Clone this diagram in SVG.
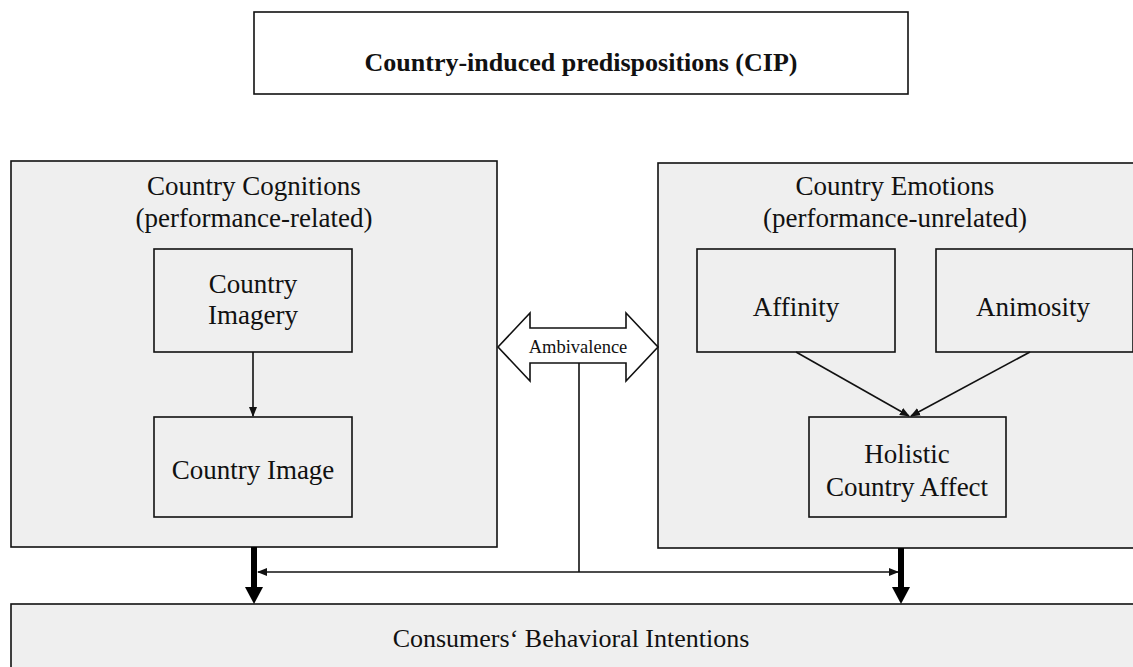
<svg xmlns="http://www.w3.org/2000/svg" width="1133" height="667" viewBox="0 0 1133 667">
<style>
.box{fill:#efefef;stroke:#111;stroke-width:1.6}
.t{font-family:"Liberation Serif","Times New Roman",serif;font-size:27px;fill:#111;text-anchor:middle}
.ln{stroke:#111;stroke-width:1.6;fill:none}
</style>
<defs>
<marker id="ah" markerWidth="10" markerHeight="10" refX="9" refY="5" orient="auto" markerUnits="userSpaceOnUse">
<path d="M0,1 L10,5 L0,9 Z" fill="#111"/>
</marker>
</defs>
<rect width="1133" height="667" fill="#fff"/>
<g id="title">
<rect x="254" y="12" width="654" height="82" fill="#fff" stroke="#111" stroke-width="1.6"/>
<text x="581" y="71" class="t" style="font-weight:bold;font-size:26px">Country-induced predispositions (CIP)</text>
</g>
<g id="cognitions">
<rect class="box" x="11" y="161" width="486" height="386"/>
<text class="t" x="254" y="195">Country Cognitions</text>
<text class="t" x="254" y="227">(performance-related)</text>
</g>
<g id="emotions">
<rect class="box" x="658" y="163" width="490" height="385"/>
<text class="t" x="895" y="195">Country Emotions</text>
<text class="t" x="895" y="227">(performance-unrelated)</text>
</g>
<g id="imagery">
<rect class="box" x="154" y="249" width="198" height="103"/>
<text class="t" x="253" y="293">Country</text>
<text class="t" x="253" y="324">Imagery</text>
</g>
<g id="image">
<rect class="box" x="154" y="417" width="198" height="100"/>
<text class="t" x="253" y="479">Country Image</text>
</g>
<g id="affinity">
<rect class="box" x="697" y="249" width="198" height="103"/>
<text class="t" x="796" y="316">Affinity</text>
</g>
<g id="animosity">
<rect class="box" x="936" y="249" width="197" height="103"/>
<text class="t" x="1033" y="316">Animosity</text>
</g>
<g id="holistic">
<rect class="box" x="809" y="417" width="197" height="100"/>
<text class="t" x="907" y="463">Holistic</text>
<text class="t" x="907" y="496">Country Affect</text>
</g>
<g id="intentions">
<rect class="box" x="11" y="604" width="1140" height="80"/>
<text class="t" x="571" y="647" style="font-size:26px">Consumers‘ Behavioral Intentions</text>
</g>
<g id="ambivalence">
<path d="M498,347 L530,313 L530,328 L626,328 L626,313 L658,347 L626,381 L626,363 L530,363 L530,381 Z" fill="#fff" stroke="#111" stroke-width="1.6"/>
<text x="578" y="353" style="font-family:'Liberation Serif','Times New Roman',serif;font-size:18.5px;fill:#111;text-anchor:middle">Ambivalence</text>
</g>
<g id="connectors">
<line class="ln" x1="253" y1="352" x2="253" y2="416" marker-end="url(#ah)"/>
<line class="ln" x1="796" y1="352" x2="909" y2="416" marker-end="url(#ah)"/>
<line class="ln" x1="1030" y1="352" x2="911" y2="416" marker-end="url(#ah)"/>
<line class="ln" x1="579" y1="363" x2="579" y2="572"/>
<line class="ln" x1="579" y1="572" x2="258" y2="572" marker-end="url(#ah)"/>
<line class="ln" x1="579" y1="572" x2="898" y2="572" marker-end="url(#ah)"/>
<line x1="254" y1="547" x2="254" y2="590" stroke="#000" stroke-width="6"/>
<path d="M245,587 L263,587 L254,604 Z" fill="#000"/>
<line x1="901" y1="548" x2="901" y2="590" stroke="#000" stroke-width="6"/>
<path d="M892,587 L910,587 L901,604 Z" fill="#000"/>
</g>
</svg>
